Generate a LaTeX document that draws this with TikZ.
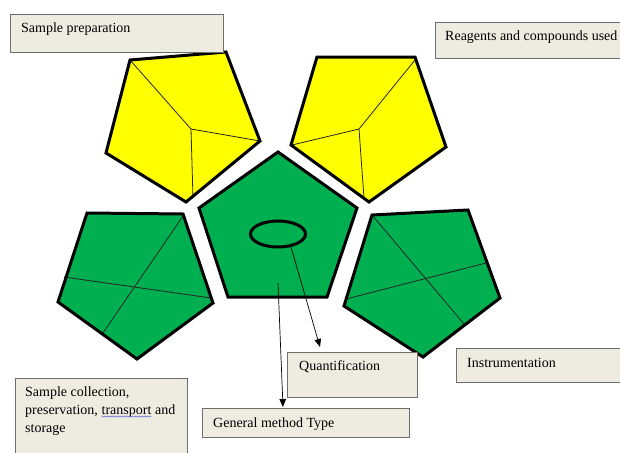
\documentclass[tikz,border=0pt]{standalone}
\usepackage{fontspec}
\setmainfont{Liberation Serif}
\usetikzlibrary{arrows.meta,shapes.geometric,decorations.pathmorphing}
\definecolor{yel}{HTML}{FFFF00}
\definecolor{grn}{HTML}{00B050}
\definecolor{boxfill}{HTML}{EEECE1}
\definecolor{boxline}{HTML}{6E6E6E}
\definecolor{wavec}{HTML}{6A6AD8}
\newcommand\wavyword[1]{\tikz[baseline=(w.base)]{\node[inner sep=0pt,outer sep=0pt,anchor=base] (w) {#1};\draw[wavec,line width=0.5pt,decorate,decoration={snake,amplitude=0.6pt,segment length=2.5pt}] ([yshift=-2.5pt]w.base west) -- ([yshift=-2.5pt]w.base east);}}
\begin{document}
\begin{tikzpicture}[x=1pt,y=-1pt,
  pentline/.style={draw=black,line width=3pt,line join=miter},
  inner/.style={draw=black!85,line width=0.8pt},
  box/.style={draw=boxline,fill=boxfill,line width=1pt,inner sep=0pt,anchor=north west},
  lbl/.style={anchor=base west,inner sep=0pt,align=left,font=\fontsize{14}{18}\selectfont},
  arr/.style={-{Triangle[length=8pt,width=6.5pt]},line width=0.7pt}]
\clip (0,0) rectangle (620,452);
\fill[white] (0,0) rectangle (620,452);

% yellow left pentagon
\fill[yel] (130,60) -- (226,52) -- (260,141) -- (186,202) -- (106,153) -- cycle;
\draw[inner] (130,60) -- (191,129) -- (260,141);
\draw[inner] (191,129) -- (193,198);
\draw[pentline] (130,60) -- (226,52) -- (260,141) -- (186,202) -- (106,153) -- cycle;

% yellow right pentagon
\fill[yel] (317,57) -- (415,57) -- (446,147) -- (369,202) -- (291,145) -- cycle;
\draw[inner] (415,60) -- (359,129) -- (292,145);
\draw[inner] (359,129) -- (364,198);
\draw[pentline] (317,57) -- (415,57) -- (446,147) -- (369,202) -- (291,145) -- cycle;

% green left pentagon
\fill[grn] (87,213) -- (183,214) -- (213,303) -- (137,359) -- (58,302) -- cycle;
\draw[inner] (183,216) -- (103,333);
\draw[inner] (64,277) -- (211,298);
\draw[pentline] (87,213) -- (183,214) -- (213,303) -- (137,359) -- (58,302) -- cycle;

% green right pentagon
\fill[grn] (372,215) -- (468,210) -- (500,298) -- (423,357) -- (344,306) -- cycle;
\draw[inner] (372,215) -- (464,324);
\draw[inner] (346,299) -- (486,263);
\draw[pentline] (372,215) -- (468,210) -- (500,298) -- (423,357) -- (344,306) -- cycle;

% green center pentagon
\fill[grn] (278,152) -- (357,208) -- (327,297) -- (228,297) -- (199,208) -- cycle;
\draw[pentline] (278,152) -- (357,208) -- (327,297) -- (228,297) -- (199,208) -- cycle;
\node[draw=black,line width=3pt,ellipse,minimum width=55pt,minimum height=26pt,inner sep=0pt] (ell) at (278,234) {};
\coordinate (gstart) at (278,283);

% boxes
\node[box,minimum width=213pt,minimum height=38pt] (bprep) at (10,14) {};
\node[box,minimum width=200pt,minimum height=36pt] (breag) at (435,22) {};
\node[box,minimum width=172pt,minimum height=90pt] (bcoll) at (15,378) {};
\node[box,minimum width=207pt,minimum height=29pt] (bgen) at (202,408) {};
\node[box,minimum width=130pt,minimum height=45pt] (bquant) at (287,352) {};
\node[box,minimum width=180pt,minimum height=34pt] (binst) at (456,348) {};

\coordinate (qend) at (320,347);
\coordinate (gend) at (283,407);

% labels
\node[lbl] (tprep) at (21,33) {Sample preparation};
\node[lbl] (treag) at (445,41) {Reagents and compounds used};
\node[lbl] (tcoll) at (25,432) {Sample collection,\\preservation, \wavyword{transport} and\\storage};
\node[lbl] (tgen) at (213,427) {General method Type};
\node[lbl] (tquant) at (299,370) {Quantification};
\node[lbl] (tinst) at (467,367) {Instrumentation};

% arrows
\draw[arr] (ell.-45) -- (qend);
\draw[arr] (gstart) -- (gend);
\end{tikzpicture}
\end{document}
